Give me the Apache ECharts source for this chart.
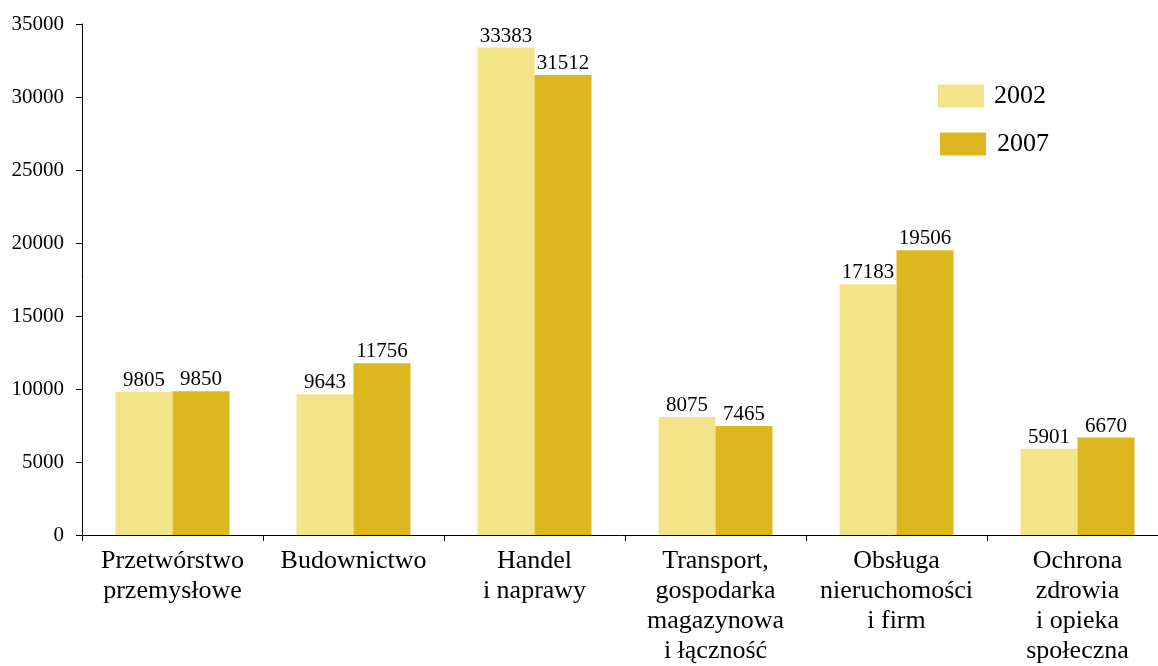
<!DOCTYPE html>
<html>
<head>
<meta charset="utf-8">
<script src="https://cdn.jsdelivr.net/npm/echarts@6/dist/echarts.min.js"></script>
<style>html,body{margin:0;padding:0;background:#fff;}#c{width:1158px;height:666px;}</style>
</head>
<body>
<div id="c"></div>
<script>
const categories = [
  'Przetwórstwo\nprzemysłowe',
  'Budownictwo',
  'Handel\ni naprawy',
  'Transport,\ngospodarka\nmagazynowa\ni łączność',
  'Obsługa\nnieruchomości\ni firm',
  'Ochrona\nzdrowia\ni opieka\nspołeczna'
];
const seriesNames = ['2002', '2007'];
const values2002 = [9805, 9643, 33383, 8075, 17183, 5901];
const values2007 = [9850, 11756, 31512, 7465, 19506, 6670];
const yTicks = [0, 5000, 10000, 15000, 20000, 25000, 30000, 35000];

const FONT = "'Liberation Serif', 'Times New Roman', serif";
const chart = echarts.init(document.getElementById('c'), null, {renderer: 'canvas'});
const labelCfg = {show: true, position: 'top', distance: 1, color: '#000', fontFamily: FONT, fontSize: 21};
chart.setOption({
  animation: false,
  backgroundColor: '#fff',
  textStyle: {fontFamily: FONT},
  grid: {left: 82, top: 24, width: 1086, height: 511, containLabel: false, outerBoundsMode: 'none'},
  legend: [
    {orient: 'vertical', left: 938, top: 83, padding: 0, itemWidth: 46, itemHeight: 23, icon: 'rect', data: [seriesNames[0]],
     textStyle: {fontFamily: FONT, fontSize: 26, color: '#000', padding: [0, 0, 0, 5]}},
    {orient: 'vertical', left: 940, top: 131, padding: 0, itemWidth: 46, itemHeight: 23, icon: 'rect', data: [seriesNames[1]],
     textStyle: {fontFamily: FONT, fontSize: 26, color: '#000', padding: [0, 0, 0, 6]}}
  ],
  xAxis: {
    type: 'category',
    data: categories,
    axisLine: {lineStyle: {color: '#000', width: 1}},
    axisTick: {show: true, alignWithLabel: false, length: 6, lineStyle: {color: '#000'}},
    axisLabel: {interval: 0, color: '#000', fontFamily: FONT, fontSize: 26, lineHeight: 30, margin: 11}
  },
  yAxis: {
    type: 'value',
    min: yTicks[0],
    max: yTicks[yTicks.length - 1],
    interval: yTicks[1] - yTicks[0],
    splitLine: {show: false},
    axisLine: {show: true, lineStyle: {color: '#000', width: 1}},
    axisTick: {show: true, length: 6, lineStyle: {color: '#000'}},
    axisLabel: {color: '#000', fontFamily: FONT, fontSize: 21, margin: 18, formatter: v => String(v)}
  },
  series: [
    {name: seriesNames[0], type: 'bar', data: values2002, barGap: '0%', barCategoryGap: '37%',
     itemStyle: {color: '#F3E48A'}, label: labelCfg},
    {name: seriesNames[1], type: 'bar', data: values2007, barGap: '0%', barCategoryGap: '37%',
     itemStyle: {color: '#DDB71E'}, label: labelCfg}
  ]
});
</script>
</body>
</html>
